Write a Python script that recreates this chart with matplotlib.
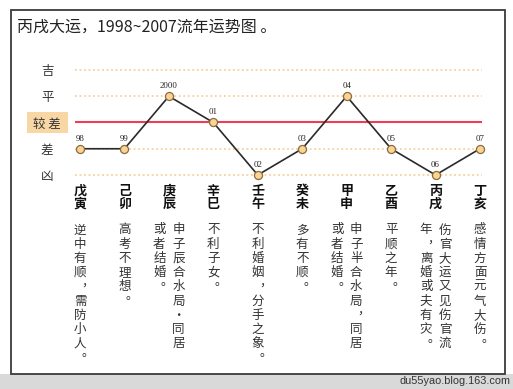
import matplotlib
matplotlib.use("Agg")
import matplotlib.pyplot as plt
import matplotlib.transforms as mtransforms
from matplotlib.patches import Rectangle

plt.rcParams["font.family"] = ["Noto Sans CJK SC", "DejaVu Sans"]

# ── Data ────────────────────────────────────────────────────────────────────
TITLE = "丙戌大运，1998~2007流年运势图 。"
YEAR_LABELS = ["98", "99", "2000", "01", "02", "03", "04", "05", "06", "07"]
LEVEL_NAMES = ["凶", "差", "较差", "平", "吉"]          # level 0..4
LEVELS = [1, 1, 3, 2, 0, 1, 3, 1, 0, 1]
GANZHI = ["戊寅", "己卯", "庚辰", "辛巳", "壬午", "癸未", "甲申", "乙酉", "丙戌", "丁亥"]
NOTES = [
    ["逆中有顺，需防小人。"],
    ["高考不理想。"],
    ["申子辰合水局·同居", "或者结婚。"],
    ["不利子女。"],
    ["不利婚姻，分手之象。"],
    ["多有不顺。"],
    ["申子半合水局，同居", "或者结婚。"],
    ["平顺之年。"],
    ["伤官大运又见伤官流", "年，离婚或夫有灾。"],
    ["感情方面元气大伤。"],
]
WATERMARK = "du55yao.blog.163.com"

# ── Layout (pixels) ─────────────────────────────────────────────────────────
W, H = 513, 389
AX_L, AX_R = 75, 482
X0_PX, STEP_PX = 80, 400 / 9
LV0_PX, LV_STEP = 175, 26.25
YLO, YHI = -0.3, 4.3

fig = plt.figure(figsize=(W / 100, H / 100), dpi=100)
fig.patch.set_facecolor("white")

# frame + grey strip at bottom
fig.add_artist(Rectangle((0, 0), 1, 1 - 374 / H, transform=fig.transFigure,
                         facecolor="#d9d9d9", edgecolor="none", zorder=-3))
fig.add_artist(Rectangle((11 / W, 1 - 374 / H), (505 - 11) / W, (374 - 10) / H,
                         transform=fig.transFigure, facecolor="white",
                         edgecolor="#3a3a3a", linewidth=1.3, zorder=-2))
# highlight box behind 较差
fig.add_artist(Rectangle((27 / W, 1 - 133 / H), 41 / W, 21 / H, transform=fig.transFigure,
                         facecolor="#f8d7a4", edgecolor="none", zorder=-1))

top_px = LV0_PX - YHI * LV_STEP
bot_px = LV0_PX - YLO * LV_STEP
ax = fig.add_axes([AX_L / W, 1 - bot_px / H, (AX_R - AX_L) / W, (bot_px - top_px) / H])
ax.set_facecolor("none")
ax.set_xlim((AX_L - X0_PX) / STEP_PX, (AX_R - X0_PX) / STEP_PX)
ax.set_ylim(YLO, YHI)

for lv in range(len(LEVEL_NAMES)):
    if LEVEL_NAMES[lv] == "较差":
        ax.axhline(lv, color="#ee3d55", linewidth=1.5, zorder=1)
    else:
        ax.axhline(lv, color="#f5d29c", linewidth=1.3, linestyle=(0, (1, 1.5)), zorder=1)

xs = list(range(len(LEVELS)))
ax.plot(xs, LEVELS, color="#2a2a2a", linewidth=1.2, zorder=2, clip_on=False)
ax.plot(xs, LEVELS, linestyle="none", marker="o", markersize=5.8,
        markerfacecolor="#f9d496", markeredgecolor="#8c6b3c", markeredgewidth=0.9,
        zorder=3, clip_on=False)
for x, y, lab in zip(xs, LEVELS, YEAR_LABELS):
    ax.annotate(lab, (x, y), xytext=(0, 7.3), textcoords="offset points",
                ha="center", va="center", fontsize=6.3, family="Liberation Serif",
                color="#222222")

ax.set_xticks([])
ax.set_yticks(range(len(LEVEL_NAMES)))
ax.set_yticklabels([n if n != "较差" else "较 差" for n in LEVEL_NAMES],
                   fontsize=9, color="#333333", ha="center")
ax.tick_params(axis="y", length=0, pad=20)
for s in ax.spines.values():
    s.set_visible(False)

# title
fig.text(17 / W, 1 - 27 / H, TITLE, fontsize=11.5, color="#222222", ha="left", va="center")

# ganzhi + vertical notes, x tied to data positions
blend = mtransforms.blended_transform_factory(ax.transData, fig.transFigure)
PUNCT = "，。"
for i, (gz, cols) in enumerate(zip(GANZHI, NOTES)):
    for k, ch in enumerate(gz):
        fig.text(i, 1 - (190.5 + k * 13.2) / H, ch, transform=blend, fontsize=9.4,
                 fontweight="bold", color="#111111", ha="center", va="center")
    n = len(cols)
    for c, col in enumerate(cols):
        dx = 0 if n == 1 else (9.5 if c == 0 else -9.5)
        for k, ch in enumerate(col):
            px = dx
            py = 230 + k * 14.2
            if ch in PUNCT:
                px += 7.5
                py -= 5
            fig.text(i + px / STEP_PX, 1 - py / H, ch, transform=blend, fontsize=9,
                     color="#333333", ha="center", va="center")

fig.text(510 / W, 1 - 381 / H, WATERMARK, fontsize=7.8, family="Liberation Sans",
         color="#333333", ha="right", va="center")

fig.savefig("out.png", dpi=100)
